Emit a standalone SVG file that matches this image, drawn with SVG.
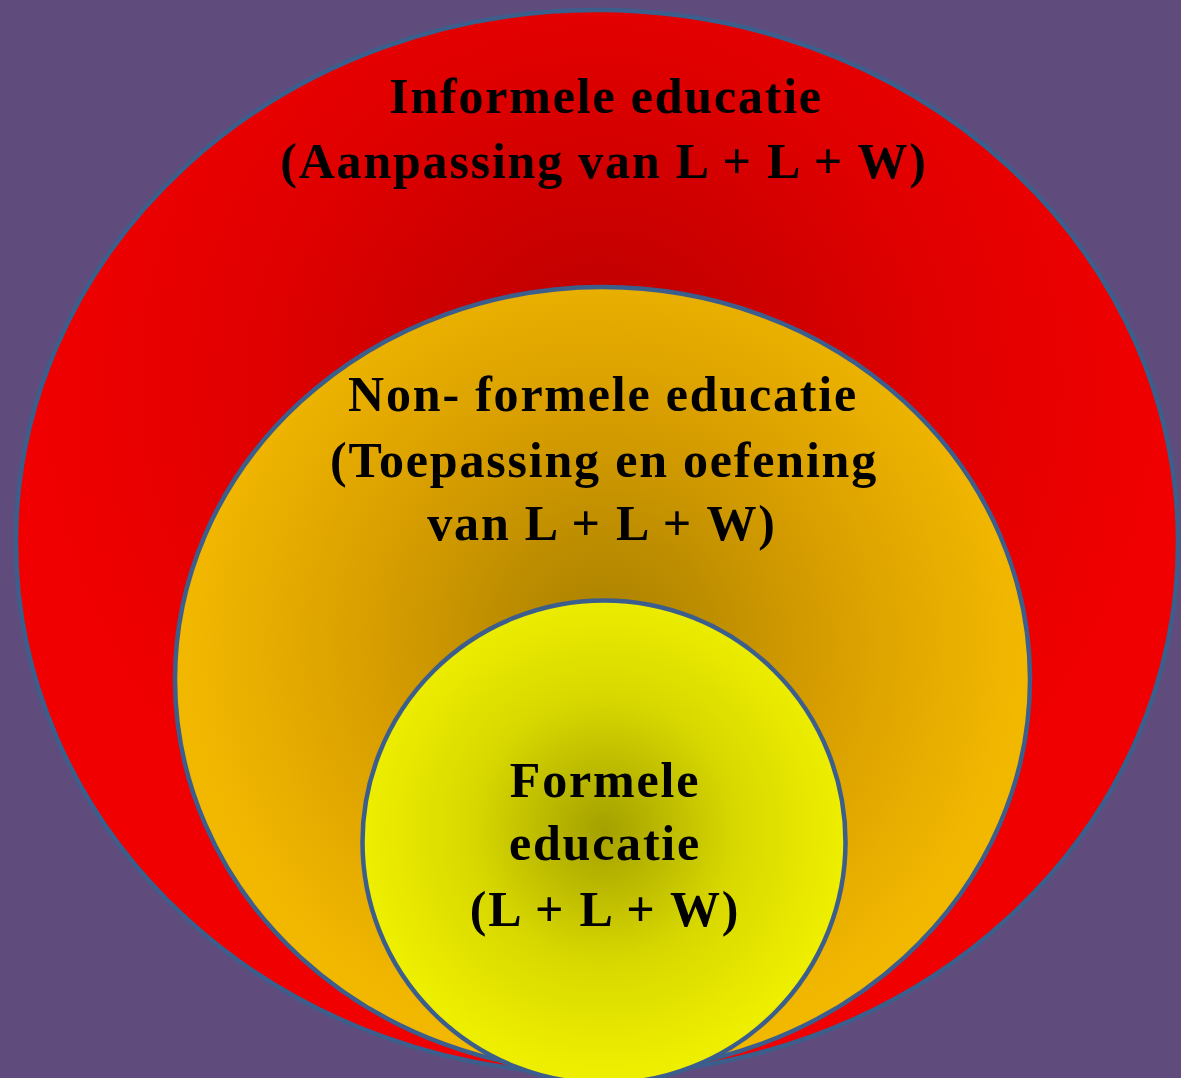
<svg xmlns="http://www.w3.org/2000/svg" width="1181" height="1078" viewBox="0 0 1181 1078">
  <style>
    .ring { stroke: #3c5e8c; stroke-width: 4.5; }
    .lbl { font-family: "Liberation Serif", "DejaVu Serif", serif; font-weight: bold; font-size: 50px; letter-spacing: 1.8px; fill: #000; text-anchor: middle; }
  </style>
  <defs>
    <radialGradient id="gRed" cx="600" cy="380" r="560" gradientUnits="userSpaceOnUse">
      <stop offset="0" stop-color="#b80000"/>
      <stop offset="0.6" stop-color="#e00000"/>
      <stop offset="1" stop-color="#f00000"/>
    </radialGradient>
    <radialGradient id="gOrange" cx="603" cy="640" r="420" gradientUnits="userSpaceOnUse">
      <stop offset="0" stop-color="#a88000"/>
      <stop offset="0.55" stop-color="#d89e00"/>
      <stop offset="1" stop-color="#f2b800"/>
    </radialGradient>
    <radialGradient id="gYellow" cx="604" cy="830" r="240" gradientUnits="userSpaceOnUse">
      <stop offset="0" stop-color="#a4a000"/>
      <stop offset="0.55" stop-color="#d8d800"/>
      <stop offset="1" stop-color="#eeee00"/>
    </radialGradient>
  </defs>
  <rect x="0" y="0" width="1181" height="1078" fill="#604c7c"/>
  <g id="informele">
    <ellipse class="ring" cx="597" cy="542" rx="581" ry="532" fill="url(#gRed)"/>
    <text class="lbl" x="606" y="113">Informele educatie</text>
    <text class="lbl" x="604" y="178">(Aanpassing van L + L + W)</text>
  </g>
  <g id="nonformele">
    <ellipse class="ring" cx="602.5" cy="679.5" rx="427.5" ry="392.5" fill="url(#gOrange)"/>
    <text class="lbl" x="603" y="411">Non- formele educatie</text>
    <text class="lbl" x="604" y="477">(Toepassing en oefening</text>
    <text class="lbl" x="602" y="540">van L + L + W)</text>
  </g>
  <g id="formele">
    <circle class="ring" cx="604" cy="842" r="241.5" fill="url(#gYellow)"/>
    <text class="lbl" x="605" y="797">Formele</text>
    <text class="lbl" x="605" y="860">educatie</text>
    <text class="lbl" x="605" y="926">(L + L + W)</text>
  </g>
  <g id="connectors"/>
</svg>
